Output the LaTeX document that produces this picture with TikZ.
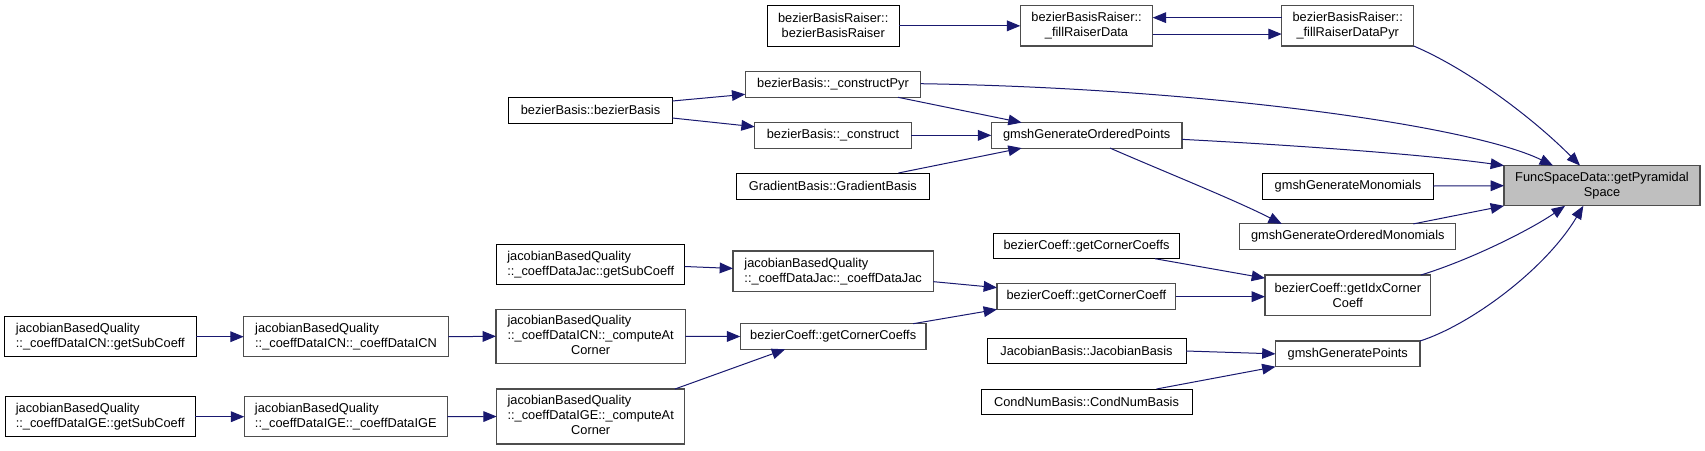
\documentclass[tikz,border=0pt]{standalone}
\usepackage{fontspec}
\setmainfont{Liberation Sans}
\usetikzlibrary{arrows.meta,calc}
\definecolor{mblue}{HTML}{191970}
\definecolor{gbord}{HTML}{4D4D4D}
\definecolor{rootfill}{HTML}{BFBFBF}
\begin{document}
\begin{tikzpicture}[x=0.75pt,y=-0.75pt,
  nd/.style={draw=black, line width=0.7pt, fill=white, inner sep=0pt, outer sep=0pt,
    font=\fontsize{9.6}{11.25}\selectfont, align=center, text=black},
  gn/.style={nd, draw=gbord, line width=0.8pt},
  sz/.style 2 args={minimum width=#1*0.75pt, minimum height=#2*0.75pt},
  e/.style={draw=mblue, line width=0.75pt, -{Triangle[length=10pt,width=8pt]}}]
\fill[white] (0,0) rectangle (1705,450);
\useasboundingbox (0,0) rectangle (1705,450);

% nodes
\node[nd, sz={132.3}{40.3}] (bbrCtor) at (833.2,25.85) {bezierBasisRaiser::\\bezierBasisRaiser};
\node[gn, sz={132.4}{40.3}] (fillRD) at (1086.5,25.85) {bezierBasisRaiser::\\\_fillRaiserData};
\node[gn, sz={132}{40.3}] (fillRDP) at (1347.7,25.85) {bezierBasisRaiser::\\\_fillRaiserDataPyr};
\node[gn, sz={175.4}{26}] (cPyr) at (833,84.3) {bezierBasis::\_constructPyr};
\node[nd, sz={163.6}{26}] (bbBasis) at (590.5,110) {bezierBasis::bezierBasis};
\node[gn, sz={156.6}{25.5}] (cons) at (833,135.35) {bezierBasis::\_construct};
\node[gn, sz={190.7}{25.5}] (gop) at (1086.65,135.35) {gmshGenerateOrderedPoints};
\node[nd, sz={192.3}{26}] (grad) at (832.85,186) {GradientBasis::GradientBasis};
\node[gn, fill=rootfill, sz={196}{40.3}] (fsd) at (1602,185.7) {FuncSpaceData::getPyramidal\\Space};
\node[nd, sz={170.6}{26}] (gm) at (1348,186) {gmshGenerateMonomials};
\node[gn, sz={216}{25.5}] (gom) at (1347.8,236.65) {gmshGenerateOrderedMonomials};
\node[nd, sz={185.6}{25.7}] (ccsU) at (1086.5,245.85) {bezierCoeff::getCornerCoeffs};
\node[nd, align=left, sz={188}{40.4}] (jacSub) at (590.7,264.5) {jacobianBasedQuality\\::\_coeffDataJac::getSubCoeff};
\node[gn, align=left, sz={200.3}{40.3}] (jacCtor) at (833.15,271.15) {jacobianBasedQuality\\::\_coeffDataJac::\_coeffDataJac};
\node[gn, sz={178.7}{25.5}] (cc) at (1086.35,296.65) {bezierCoeff::getCornerCoeff};
\node[gn, sz={165.7}{40.3}] (idx) at (1347.85,295.15) {bezierCoeff::getIdxCorner\\Coeff};
\node[nd, align=left, sz={191.3}{40}] (icnSub) at (100.35,336.7) {jacobianBasedQuality\\::\_coeffDataICN::getSubCoeff};
\node[gn, align=left, sz={204.6}{40}] (icnCtor) at (346,336.7) {jacobianBasedQuality\\::\_coeffDataICN::\_coeffDataICN};
\node[gn, sz={189.3}{54.5}] (icnComp) at (590.65,336.3) {\begin{tabular}{@{}l@{}}jacobianBasedQuality\\::\_coeffDataICN::\_computeAt\\\multicolumn{1}{@{}c@{}}{Corner}\end{tabular}};
\node[gn, sz={185.7}{25.6}] (ccsL) at (833.15,336.5) {bezierCoeff::getCornerCoeffs};
\node[nd, sz={199}{25.4}] (jb) at (1086.5,351) {JacobianBasis::JacobianBasis};
\node[gn, sz={144.5}{25.7}] (gp) at (1347.75,353.85) {gmshGeneratePoints};
\node[nd, sz={211}{25.7}] (cn) at (1086.5,401.85) {CondNumBasis::CondNumBasis};
\node[nd, align=left, sz={190}{40}] (igeSub) at (100.3,416.7) {jacobianBasedQuality\\::\_coeffDataIGE::getSubCoeff};
\node[gn, align=left, sz={203}{40}] (igeCtor) at (345.8,416.7) {jacobianBasedQuality\\::\_coeffDataIGE::\_coeffDataIGE};
\node[gn, sz={188}{55}] (igeComp) at (590.7,416.5) {\begin{tabular}{@{}l@{}}jacobianBasedQuality\\::\_coeffDataIGE::\_computeAt\\\multicolumn{1}{@{}c@{}}{Corner}\end{tabular}};

% edges
\draw[e] (bbrCtor.east) -- (fillRD.west);
\draw[e] ($(fillRDP.west)+(0,-8.2)$) -- ($(fillRD.east)+(0,-8.2)$);
\draw[e] ($(fillRD.east)+(0,8.2)$) -- ($(fillRDP.west)+(0,8.2)$);
\draw[e] (fillRDP.south east) .. controls (1470,70) and (1535,120) .. ($(fsd.north)+(-22,0)$);
\draw[e] ($(bbBasis.east)+(0,-9)$) -- ($(cPyr.west)+(0,10)$);
\draw[e] ($(bbBasis.east)+(0,8)$) -- ($(cons.west)+(0,-8.6)$);
\draw[e] ($(cPyr.south)+(65,0)$) -- ($(gop.north)+(-65,0)$);
\draw[e] (cons.east) -- (gop.west);
\draw[e] ($(grad.north)+(65.5,0)$) -- ($(gop.south)+(-65,0)$);
\draw[e] ($(cPyr.east)+(0,-0.6)$) .. controls (1200,88) and (1470,125) .. ($(fsd.north)+(-49,0)$);
\draw[e] ($(gop.east)+(0,4)$) .. controls (1290,145) and (1420,154) .. (fsd.north west);
\draw[e] ($(gop.south)+(23.4,0)$) .. controls (1165,172) and (1235,200) .. ($(gom.north)+(-66,0)$);
\draw[e] (gm.east) -- (fsd.west);
\draw[e] ($(gom.north)+(65.5,0)$) -- (fsd.south west);
\draw[e] ($(idx.north)+(73,0)$) .. controls (1470,260) and (1530,230) .. ($(fsd.south)+(-37,0)$);
\draw[e] (gp.north east) .. controls (1470,325) and (1545,270) .. ($(fsd.south)+(-18.7,0)$);
\draw[e] ($(ccsU.south)+(68.5,0)$) -- ($(idx.west)+(0,-17)$);
\draw[e] (cc.east) -- (cc.east -| idx.west);
\draw[e] (jb.east) -- (gp.west);
\draw[e] ($(cn.north)+(70,0)$) -- (gp.south west);
\draw[e] ($(jacSub.east)+(0,2)$) -- ($(jacCtor.west)+(0,-2.7)$);
\draw[e] ($(jacCtor.east)+(0,10.5)$) -- ($(cc.west)+(0,-9)$);
\draw[e] ($(ccsL.north)+(80,0)$) -- (cc.south west);
\draw[e] (icnSub.east) -- (icnCtor.west);
\draw[e] (icnCtor.east) -- (icnComp.west);
\draw[e] (icnComp.east) -- (ccsL.west);
\draw[e] (igeSub.east) -- (igeCtor.west);
\draw[e] (igeCtor.east) -- (igeComp.west);
\draw[e] ($(igeComp.north)+(84.3,0)$) -- ($(ccsL.south)+(-48,0)$);
\end{tikzpicture}
\end{document}
